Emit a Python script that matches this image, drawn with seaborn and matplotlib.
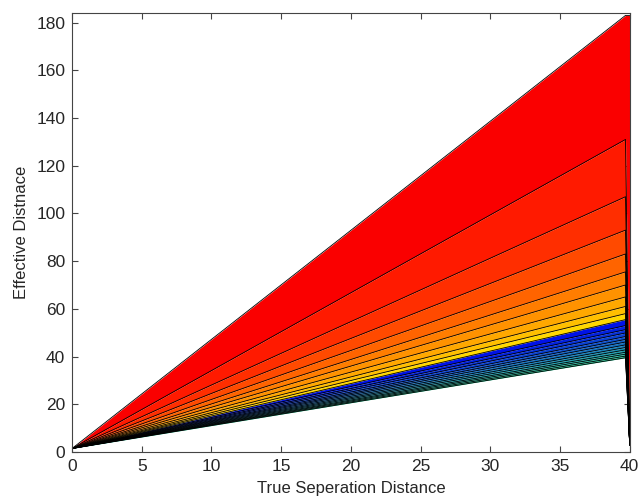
import numpy as np
import pandas as pd
import matplotlib
matplotlib.use("Agg")
import matplotlib.pyplot as plt
import seaborn as sns

# ---- data ----
# x positions of the sampled points on each contour line
x_points = [0.0, 39.7, 40.0]
# effective distance at x=0 (common start of all lines)
start_value = 1.5
# effective distance at the right edge (x=39.7) for each contour line, top to bottom
end_values = [183.0, 131.0, 107.0, 93.0, 83.0, 75.5, 70.0, 65.0, 61.0, 58.0,
              55.5, 53.0, 51.3, 49.9, 48.4, 47.2, 46.1, 44.9, 43.8, 42.8,
              41.8, 41.0, 40.2, 39.5]
# value each line drops to at x=40 (collapsed contours at the domain edge)
drop_values = [183.0] + [3.0] * 23

# band colours (top to bottom)
warm_colors = ["#fa0000", "#ff1a00", "#ff2e00", "#ff4a00", "#ff6400",
               "#ff7d00", "#ff9200", "#ffa800", "#ffbf00", "#ffd800"]
cool_top = np.array([0, 18, 232]) / 255
cool_bottom = np.array([35, 205, 150]) / 255
n_cool = len(end_values) - 1 - len(warm_colors)
cool_colors = [tuple(cool_top + (cool_bottom - cool_top) * i / (n_cool - 1)) for i in range(n_cool)]
band_colors = warm_colors + cool_colors

sns.set_style("ticks")
plt.rcParams["font.family"] = ["Liberation Sans", "DejaVu Sans"]

fig = plt.figure(figsize=(6.38, 5.0), dpi=100)
ax = fig.add_axes([0.113, 0.096, 0.874, 0.878])

def line_y(i):
    return [start_value, end_values[i], drop_values[i]]

# filled bands
for i in range(len(end_values) - 1):
    ax.fill_between(x_points, line_y(i), line_y(i + 1), color=band_colors[i], lw=0, zorder=1)

# contour lines
rows = []
for i in range(len(end_values)):
    for xv, yv in zip(x_points, line_y(i)):
        rows.append({"line": i, "x": xv, "y": yv})
df = pd.DataFrame(rows)
for i, g in df.groupby("line"):
    sns.lineplot(data=g, x="x", y="y", color="black", lw=0.6, sort=False,
                 estimator=None, ax=ax, zorder=2)

ax.set_xlim(0, 40)
ax.set_ylim(0, 184)
ax.set_xticks(np.arange(0, 41, 5))
ax.set_yticks(np.arange(0, 181, 20))
ax.set_xlabel("True Seperation Distance", fontsize=12, labelpad=5)
ax.set_ylabel("Effective Distnace", fontsize=12, labelpad=5)
ax.tick_params(direction="in", top=True, right=True, labelsize=12.5, length=4,
               color="#444444", width=0.8, pad=5)
for s in ax.spines.values():
    s.set_color("#444444")
    s.set_linewidth(0.8)
    s.set_visible(True)

fig.savefig("out.png", dpi=100)
